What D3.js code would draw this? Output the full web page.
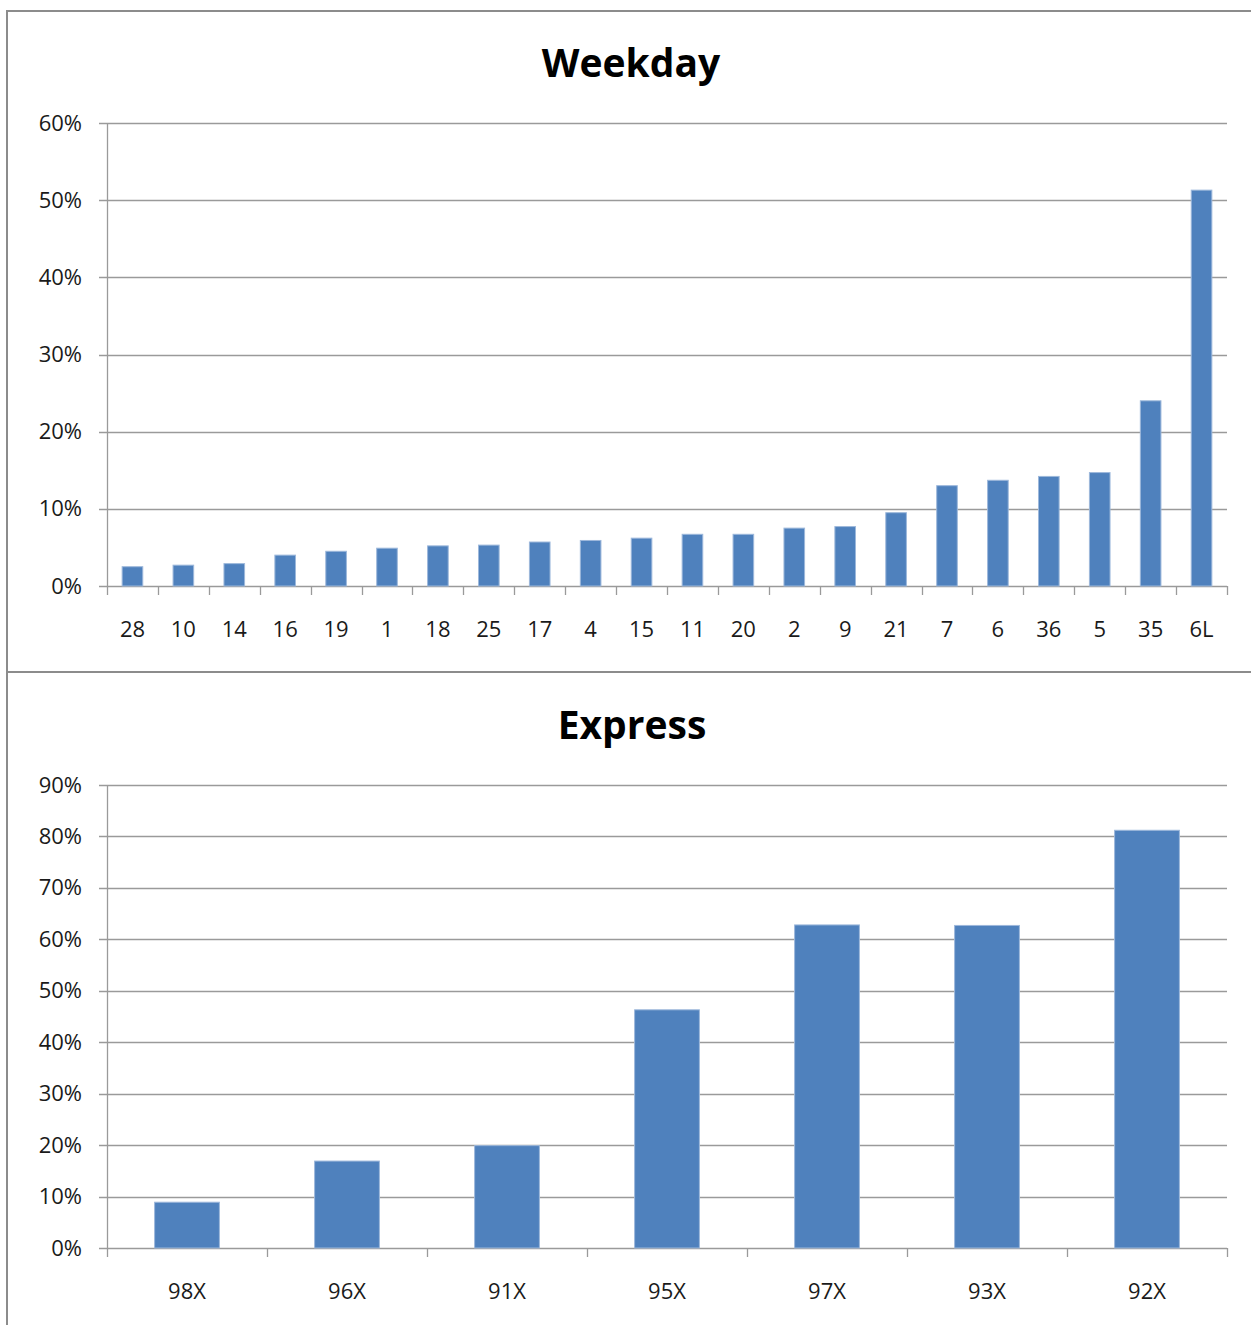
<!DOCTYPE html>
<html>
<head>
<meta charset="utf-8">
<script src="https://cdn.jsdelivr.net/npm/d3@7"></script>
<style>
  html, body { margin: 0; padding: 0; background: #fff; }
  svg { display: block; }
  .tick text { font-family: "Open Sans", "Liberation Sans", sans-serif; font-size: 22px; fill: #1a1a1a; }
  .title { font-family: "Open Sans", "Liberation Sans", sans-serif; font-weight: bold; fill: #000; }
</style>
</head>
<body>
<svg id="chart" width="1251" height="1325"></svg>
<script>
// ---- Data ----
const weekdayRoutes = ["28","10","14","16","19","1","18","25","17","4","15","11","20","2","9","21","7","6","36","5","35","6L"];
const weekdayValues = [0.025,0.027,0.029,0.040,0.045,0.049,0.052,0.053,0.057,0.059,0.062,0.067,0.067,0.075,0.077,0.095,0.130,0.137,0.142,0.147,0.240,0.513];
const weekdayTicks = [0,0.1,0.2,0.3,0.4,0.5,0.6];

const expressRoutes = ["98X","96X","91X","95X","97X","93X","92X"];
const expressValues = [0.089,0.169,0.199,0.463,0.628,0.627,0.812];
const expressTicks = [0,0.1,0.2,0.3,0.4,0.5,0.6,0.7,0.8,0.9];

const svg = d3.select("#chart");
const W = 1251, H = 1325;

// Outer frame
svg.append("path")
  .attr("d", `M7,${H} V11 H${W}`)
  .attr("fill", "none").attr("stroke", "#8c8c8c").attr("stroke-width", 2);
svg.append("line")
  .attr("x1", 7).attr("x2", W).attr("y1", 672).attr("y2", 672)
  .attr("stroke", "#8c8c8c").attr("stroke-width", 2);

function drawPanel(cfg) {
  const g = svg.append("g");
  const x = d3.scaleBand().domain(cfg.cats).range([cfg.left, cfg.right]).paddingInner(0.595).paddingOuter(0.2975);
  const y = d3.scaleLinear().domain([0, cfg.max]).range([cfg.bottom, cfg.top]);

  // Title
  g.append("text").attr("class", "title")
    .attr("x", cfg.titleX).attr("y", cfg.titleY)
    .attr("text-anchor", "middle")
    .style("font-size", cfg.titleSize + "px")
    .text(cfg.title);

  // Gridlines (including baseline)
  g.append("g").selectAll("line").data(cfg.ticks).join("line")
    .attr("x1", cfg.left - 8).attr("x2", cfg.right)
    .attr("y1", d => Math.round(y(d)) + 0.5).attr("y2", d => Math.round(y(d)) + 0.5)
    .attr("stroke", "#9a9a9a").attr("stroke-width", 1.3);

  // Y axis labels
  const yAxis = d3.axisLeft(y).tickValues(cfg.ticks).tickFormat(d3.format(".0%")).tickSize(8).tickPadding(17);
  const ya = g.append("g").attr("transform", `translate(${cfg.left},0)`).call(yAxis);
  ya.select(".domain").remove();
  ya.selectAll(".tick line").remove();

  // Vertical axis line
  g.append("line")
    .attr("x1", cfg.left + 0.5).attr("x2", cfg.left + 0.5)
    .attr("y1", y(cfg.max)).attr("y2", y(0) + 9)
    .attr("stroke", "#9a9a9a").attr("stroke-width", 1.3);

  // X tick marks at band boundaries
  const bounds = d3.range(cfg.cats.length + 1).map(i => cfg.left + i * x.step());
  g.append("g").selectAll("line").data(bounds.slice(1)).join("line")
    .attr("x1", d => Math.round(d) + 0.5).attr("x2", d => Math.round(d) + 0.5)
    .attr("y1", y(0)).attr("y2", y(0) + 9)
    .attr("stroke", "#9a9a9a").attr("stroke-width", 1.3);

  // Bars
  g.append("g").selectAll("rect").data(cfg.vals).join("rect")
    .attr("x", (d, i) => x(cfg.cats[i]))
    .attr("width", x.bandwidth())
    .attr("y", d => y(d))
    .attr("height", d => y(0) - y(d))
    .attr("fill", "#4F81BD")
    .attr("stroke", "#9DB8DB").attr("stroke-width", 1);

  // X labels
  const xAxis = d3.axisBottom(x).tickSize(0).tickPadding(cfg.labelPad);
  const xa = g.append("g").attr("transform", `translate(0,${cfg.bottom})`).call(xAxis);
  xa.select(".domain").remove();
}

drawPanel({
  title: "Weekday", titleX: 631, titleY: 77, titleSize: 39,
  cats: weekdayRoutes, vals: weekdayValues, ticks: weekdayTicks, max: 0.6,
  left: 107, right: 1227, top: 123, bottom: 586, labelPad: 35
});

drawPanel({
  title: "Express", titleX: 632, titleY: 739, titleSize: 39,
  cats: expressRoutes, vals: expressValues, ticks: expressTicks, max: 0.9,
  left: 107, right: 1227, top: 785, bottom: 1248, labelPad: 35
});
</script>
</body>
</html>
